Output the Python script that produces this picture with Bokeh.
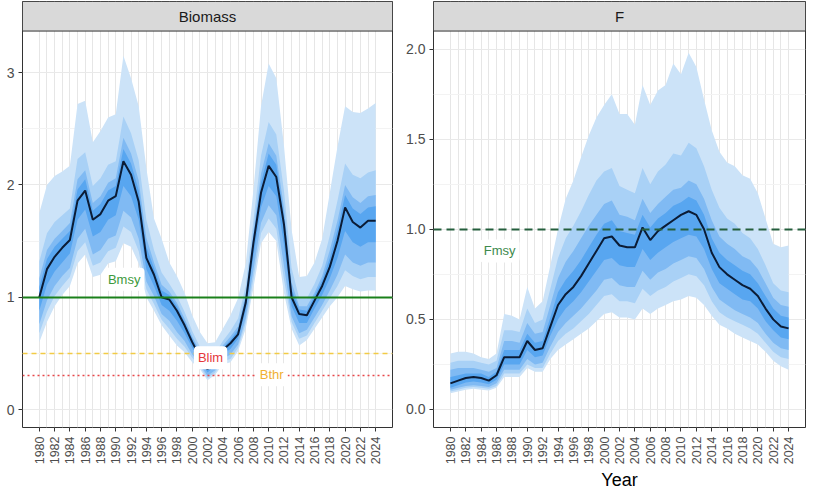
import numpy as np
from bokeh.plotting import figure
from bokeh.layouts import row
from bokeh.models import FixedTicker, PrintfTickFormatter, Title
from bokeh.core.properties import value
from bokeh.embed import file_html
from bokeh.resources import INLINE

# ---------------- data ----------------
years = list(range(1980, 2025))

# Biomass (relative) quantiles
b_med = [1.0, 1.25, 1.36, 1.44, 1.51, 1.86, 1.95, 1.69, 1.74, 1.86,
         1.9, 2.21, 2.09, 1.85, 1.35, 1.2, 1.0, 0.98, 0.88, 0.75,
         0.6, 0.47, 0.36, 0.42, 0.53, 0.59, 0.67, 0.95, 1.48, 1.93,
         2.17, 2.07, 1.65, 1.0, 0.85, 0.84, 0.97, 1.1, 1.27, 1.5,
         1.8, 1.67, 1.62, 1.68, 1.68]
b_q975 = [1.75, 2.0, 2.08, 2.12, 2.17, 2.72, 2.75, 2.38, 2.48, 2.6,
          2.63, 3.15, 2.95, 2.7, 2.15, 1.7, 1.52, 1.31, 1.19, 1.04,
          0.84, 0.69, 0.59, 0.6, 0.72, 0.84, 0.99, 1.3, 1.95, 2.7,
          3.08, 2.95, 2.35, 1.6, 1.18, 1.19, 1.31, 1.52, 1.93, 2.34,
          2.7, 2.65, 2.64, 2.68, 2.73]
b_q95 = [1.32, 1.57, 1.67, 1.73, 1.79, 2.23, 2.29, 1.99, 2.06, 2.18,
         2.21, 2.61, 2.46, 2.22, 1.69, 1.42, 1.22, 1.12, 1.01, 0.87,
         0.70, 0.56, 0.46, 0.50, 0.61, 0.70, 0.81, 1.10, 1.68, 2.26,
         2.56, 2.45, 1.95, 1.26, 0.99, 0.99, 1.12, 1.28, 1.55, 1.86,
         2.19, 2.09, 2.06, 2.11, 2.13]
b_q90 = [1.17, 1.42, 1.52, 1.59, 1.66, 2.05, 2.13, 1.84, 1.90, 2.02,
         2.06, 2.42, 2.28, 2.04, 1.53, 1.31, 1.11, 1.05, 0.95, 0.81,
         0.65, 0.52, 0.41, 0.46, 0.57, 0.65, 0.74, 1.03, 1.58, 2.10,
         2.37, 2.26, 1.80, 1.13, 0.92, 0.92, 1.04, 1.19, 1.42, 1.68,
         2.00, 1.89, 1.84, 1.90, 1.91]
b_q75 = [1.09, 1.34, 1.45, 1.52, 1.59, 1.96, 2.05, 1.77, 1.83, 1.95,
         1.99, 2.32, 2.19, 1.95, 1.45, 1.26, 1.06, 1.02, 0.92, 0.78,
         0.63, 0.50, 0.39, 0.44, 0.55, 0.62, 0.71, 0.99, 1.54, 2.02,
         2.28, 2.18, 1.73, 1.07, 0.89, 0.88, 1.01, 1.15, 1.35, 1.60,
         1.91, 1.79, 1.74, 1.80, 1.81]
b_q25 = [0.88, 1.11, 1.23, 1.31, 1.39, 1.69, 1.78, 1.54, 1.58, 1.69,
         1.73, 1.99, 1.90, 1.69, 1.25, 1.10, 0.93, 0.88, 0.79, 0.68,
         0.55, 0.44, 0.33, 0.39, 0.49, 0.54, 0.63, 0.88, 1.36, 1.80,
         1.99, 1.90, 1.47, 0.92, 0.77, 0.77, 0.90, 1.02, 1.17, 1.35,
         1.59, 1.49, 1.45, 1.49, 1.49]
b_q10 = [0.76, 0.97, 1.10, 1.19, 1.26, 1.52, 1.61, 1.38, 1.42, 1.52,
         1.55, 1.77, 1.71, 1.52, 1.14, 1.01, 0.85, 0.79, 0.69, 0.61,
         0.49, 0.40, 0.30, 0.35, 0.45, 0.49, 0.58, 0.81, 1.24, 1.66,
         1.82, 1.73, 1.28, 0.83, 0.68, 0.71, 0.82, 0.93, 1.06, 1.20,
         1.38, 1.31, 1.28, 1.31, 1.31]
b_q05 = [0.68, 0.87, 1.01, 1.10, 1.18, 1.41, 1.49, 1.28, 1.31, 1.41,
         1.44, 1.63, 1.58, 1.41, 1.07, 0.94, 0.80, 0.72, 0.63, 0.56,
         0.46, 0.38, 0.28, 0.33, 0.43, 0.45, 0.55, 0.77, 1.16, 1.57,
         1.70, 1.61, 1.16, 0.78, 0.63, 0.66, 0.77, 0.88, 0.99, 1.10,
         1.24, 1.19, 1.16, 1.18, 1.18]
b_q025 = [0.6, 0.78, 0.92, 1.02, 1.1, 1.3, 1.38, 1.18, 1.2, 1.3,
          1.32, 1.48, 1.45, 1.3, 1.0, 0.88, 0.75, 0.66, 0.57, 0.51,
          0.42, 0.36, 0.26, 0.31, 0.4, 0.42, 0.52, 0.72, 1.08, 1.48,
          1.58, 1.5, 1.04, 0.72, 0.57, 0.62, 0.72, 0.82, 0.92, 1.0,
          1.1, 1.07, 1.05, 1.06, 1.06]

# Fishing mortality (relative) quantiles
f_med = [0.145, 0.16, 0.175, 0.18, 0.175, 0.16, 0.19, 0.29, 0.29, 0.29,
         0.38, 0.33, 0.34, 0.46, 0.58, 0.64, 0.68, 0.74, 0.81, 0.88,
         0.95, 0.96, 0.91, 0.9, 0.9, 1.01, 0.94, 0.99, 1.02, 1.05,
         1.08, 1.1, 1.08, 1.0, 0.87, 0.79, 0.75, 0.72, 0.69, 0.67,
         0.63, 0.56, 0.5, 0.46, 0.45]
f_q975 = [0.31, 0.32, 0.32, 0.31, 0.29, 0.28, 0.31, 0.53, 0.52, 0.5,
          0.68, 0.56, 0.6, 0.8, 1.0, 1.17, 1.27, 1.4, 1.52, 1.62,
          1.69, 1.75, 1.64, 1.64, 1.58, 1.8, 1.69, 1.77, 1.8, 1.92,
          1.86, 1.98, 1.9, 1.72, 1.55, 1.43, 1.37, 1.35, 1.3, 1.28,
          1.2, 1.06, 0.92, 0.9, 0.91]
f_q95 = [0.26, 0.27, 0.27, 0.27, 0.26, 0.25, 0.27, 0.44, 0.44, 0.43,
         0.56, 0.48, 0.5, 0.67, 0.84, 0.95, 1.02, 1.1, 1.19, 1.27,
         1.32, 1.34, 1.24, 1.22, 1.2, 1.34, 1.25, 1.32, 1.36, 1.42,
         1.41, 1.48, 1.45, 1.35, 1.22, 1.12, 1.06, 1.03, 0.98, 0.95,
         0.89, 0.8, 0.7, 0.66, 0.65]
f_q90 = [0.22, 0.23, 0.23, 0.23, 0.22, 0.21, 0.23, 0.38, 0.38, 0.37,
         0.48, 0.42, 0.43, 0.58, 0.73, 0.82, 0.88, 0.95, 1.02, 1.08,
         1.14, 1.16, 1.08, 1.07, 1.05, 1.17, 1.09, 1.14, 1.18, 1.22,
         1.23, 1.27, 1.25, 1.17, 1.05, 0.96, 0.92, 0.89, 0.85, 0.83,
         0.78, 0.7, 0.62, 0.58, 0.57]
f_q75 = [0.18, 0.19, 0.2, 0.2, 0.2, 0.18, 0.21, 0.33, 0.33, 0.33,
         0.42, 0.37, 0.38, 0.51, 0.65, 0.72, 0.77, 0.83, 0.9, 0.97,
         1.03, 1.05, 0.99, 0.98, 0.97, 1.08, 1.01, 1.06, 1.09, 1.13,
         1.15, 1.18, 1.16, 1.08, 0.95, 0.87, 0.83, 0.8, 0.77, 0.75,
         0.7, 0.63, 0.56, 0.52, 0.51]
f_q25 = [0.12, 0.135, 0.15, 0.155, 0.15, 0.14, 0.165, 0.25, 0.25, 0.25,
         0.33, 0.29, 0.3, 0.41, 0.5, 0.56, 0.6, 0.65, 0.71, 0.77,
         0.83, 0.84, 0.8, 0.79, 0.79, 0.89, 0.83, 0.87, 0.9, 0.93,
         0.95, 0.97, 0.96, 0.89, 0.78, 0.7, 0.67, 0.64, 0.61, 0.6,
         0.56, 0.49, 0.44, 0.4, 0.39]
f_q10 = [0.11, 0.12, 0.13, 0.135, 0.13, 0.125, 0.145, 0.22, 0.22, 0.22,
         0.28, 0.25, 0.26, 0.35, 0.43, 0.48, 0.52, 0.56, 0.61, 0.66,
         0.72, 0.73, 0.69, 0.68, 0.68, 0.77, 0.72, 0.76, 0.78, 0.81,
         0.83, 0.85, 0.84, 0.78, 0.68, 0.61, 0.58, 0.55, 0.53, 0.51,
         0.48, 0.42, 0.37, 0.34, 0.33]
f_q05 = [0.1, 0.11, 0.12, 0.125, 0.12, 0.115, 0.13, 0.2, 0.2, 0.2,
         0.25, 0.23, 0.23, 0.31, 0.38, 0.42, 0.45, 0.49, 0.53, 0.58,
         0.63, 0.64, 0.6, 0.6, 0.59, 0.67, 0.63, 0.66, 0.68, 0.71,
         0.73, 0.75, 0.74, 0.69, 0.6, 0.54, 0.51, 0.49, 0.47, 0.45,
         0.42, 0.37, 0.32, 0.29, 0.28]
f_q025 = [0.09, 0.1, 0.11, 0.115, 0.11, 0.105, 0.12, 0.18, 0.18, 0.18,
          0.23, 0.21, 0.21, 0.28, 0.33, 0.36, 0.39, 0.42, 0.45, 0.49,
          0.53, 0.54, 0.51, 0.51, 0.5, 0.56, 0.53, 0.56, 0.58, 0.6,
          0.61, 0.63, 0.62, 0.58, 0.52, 0.47, 0.45, 0.42, 0.4, 0.38,
          0.36, 0.32, 0.27, 0.24, 0.22]

# reference points
BMSY, BTHR, BLIM, FMSY = 1.0, 0.5, 0.3, 1.0

b_yticks = [0, 1, 2, 3]
b_yminor = [0.5, 1.5, 2.5]
f_yticks = [0.0, 0.5, 1.0, 1.5, 2.0]
f_yminor = [0.25, 0.75, 1.25, 1.75]
x_ticks = [y for y in years if y % 2 == 0]
x_minor = [y for y in years if y % 2 == 1]

# ---------------- style ----------------
FONT = "Liberation Sans"
BAND_COLORS = ["#cce3f8", "#a9d1f6", "#80baf3", "#58a6f0"]
MED_COLOR = "#0b1c36"
X0, X1 = 1977.8, 2026.2
H = 489
BT, BB = 1, 40
STRIP_PX = 29


def make_panel(title, width, bl, br, y_bot, y_top, yticks, yminor,
               bands, med, fmt=None):
    frame_h = H - BT - 70
    y_end = y_top + STRIP_PX * (y_top - y_bot) / (frame_h - STRIP_PX)
    p = figure(width=width, height=H, x_range=(X0, X1), y_range=(y_bot, y_end),
               output_backend="svg", toolbar_location=None,
               min_border_left=bl, min_border_right=br,
               min_border_top=BT, min_border_bottom=BB)
    p.background_fill_color = "white"
    p.outline_line_color = "#333333"
    p.outline_line_width = 1

    # grids
    p.xgrid.ticker = FixedTicker(ticks=years)
    p.xgrid.grid_line_color = "#e6e6e6"
    p.xgrid.grid_line_width = 1
    p.ygrid.ticker = FixedTicker(ticks=yticks, minor_ticks=yminor)
    p.ygrid.grid_line_color = "#e9e9e9"
    p.ygrid.minor_grid_line_color = "#f3f3f3"

    # axes
    p.xaxis.ticker = FixedTicker(ticks=x_ticks, minor_ticks=x_minor)
    p.yaxis.ticker = FixedTicker(ticks=yticks, minor_ticks=yminor)
    if fmt:
        p.yaxis.formatter = PrintfTickFormatter(format=fmt)
    p.xaxis.major_label_orientation = np.pi / 2
    for ax in (p.xaxis, p.yaxis):
        ax.axis_line_color = None
        ax.major_tick_line_color = "#333333"
        ax.major_tick_out = 4
        ax.major_tick_in = 0
        ax.minor_tick_line_color = None
        ax.major_label_text_font = FONT
        ax.major_label_text_color = "#4d4d4d"
    p.xaxis.major_label_text_font_size = "12.5px"
    p.yaxis.major_label_text_font_size = "14px"
    p.xaxis.major_label_standoff = 5
    p.yaxis.major_label_standoff = 4

    # fan bands
    for (lo, hi), col in zip(bands, BAND_COLORS):
        p.varea(x=years, y1=lo, y2=hi, fill_color=col, fill_alpha=1)
    p.line(years, med, line_color=MED_COLOR, line_width=2)

    # strip
    p.quad(left=[X0], right=[X1], bottom=[y_top], top=[y_end],
           fill_color="#d9d9d9", line_color="#333333", line_width=1)
    p.text(x=[(X0 + X1) / 2], y=[(y_top + y_end) / 2], text=[title],
           text_align="center", text_baseline="middle",
           text_font=value(FONT), text_font_size="15px", text_color="#1a1a1a")
    return p


def add_label(p, x, y, txt, color):
    p.text(x=[x], y=[y], text=[txt], text_align="center", text_baseline="middle",
           text_font=value(FONT), text_font_size="13px", text_color=color,
           background_fill_color="white", background_fill_alpha=1,
           padding=4, border_radius=4)


# ---------------- Biomass panel ----------------
b_bands = [(b_q025, b_q975), (b_q05, b_q95), (b_q10, b_q90), (b_q25, b_q75)]
p1 = make_panel("Biomass", 400, 22, 8, -0.16, 3.37, b_yticks, b_yminor,
                b_bands, b_med)
p1.hspan(y=[BMSY], line_color="#1a801a", line_width=2)
p1.hspan(y=[BTHR], line_color="#f2cb45", line_width=1.6, line_dash="5 4")
p1.hspan(y=[BLIM], line_color="#e8474a", line_width=1.6, line_dash="2 3")
add_label(p1, 1991.1, 1.16, "Bmsy", "#3d9a3d")
add_label(p1, 2002.4, 0.46, "Blim", "#e5383b")
add_label(p1, 2010.4, 0.31, "Bthr", "#f0b030")

# ---------------- F panel ----------------
f_bands = [(f_q025, f_q975), (f_q05, f_q95), (f_q10, f_q90), (f_q25, f_q75)]
p2 = make_panel("F", 407, 33, 2, -0.1, 2.1, f_yticks, f_yminor,
                f_bands, f_med, fmt="%.1f")
p2.hspan(y=[FMSY], line_color="#245e3c", line_width=1.8, line_dash="8 5")
add_label(p2, 1986.4, 0.88, "Fmsy", "#3d8a4d")

# x-axis title below the F panel
p2.add_layout(Title(text="Year", align="center", text_font=FONT,
                    text_font_size="18px", text_font_style="normal",
                    text_color="black", standoff=0, offset=0,
                    vertical_align="bottom"), "below")

layout = row(p1, p2)
open("out.html", "w").write(file_html(layout, INLINE))
